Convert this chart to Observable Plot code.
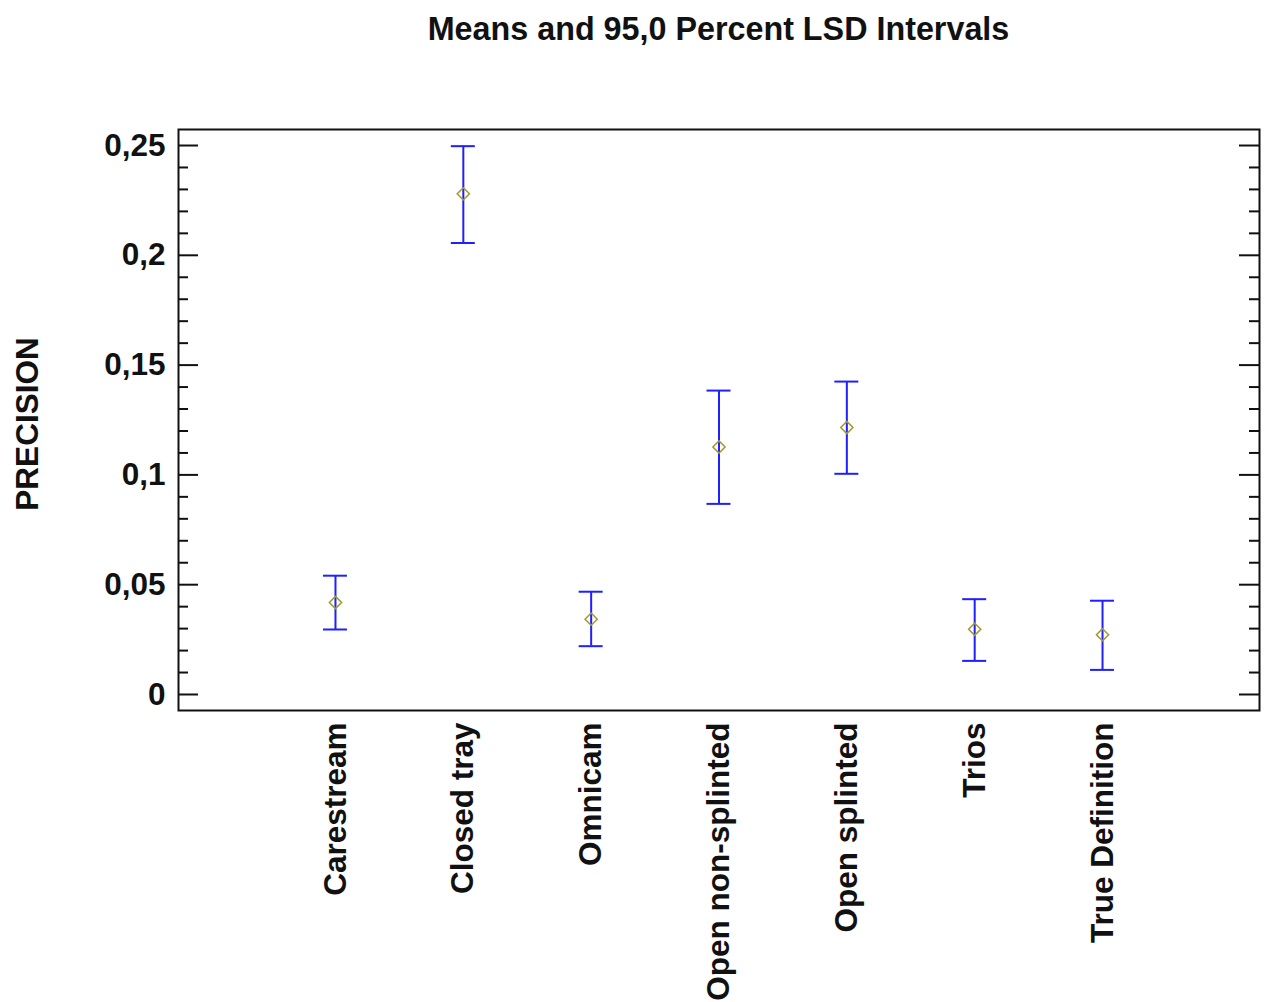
<!DOCTYPE html>
<html><head><meta charset="utf-8">
<script src="https://cdn.jsdelivr.net/npm/d3@7"></script>
<script src="https://cdn.jsdelivr.net/npm/@observablehq/plot@0.6"></script>
<style>
body{margin:0;background:#fff;font-family:"Liberation Sans",Arial,sans-serif;}
#title{height:60px;box-sizing:border-box;padding-left:170px;padding-top:14px;text-align:center;font-weight:bold;font-size:32.3px;line-height:30px;color:#111;}
#chart svg{display:block;}
</style></head><body>
<div id="title"></div>
<div id="chart"></div>
<script>
const titleText = "Means and 95,0 Percent LSD Intervals";
const yLabel = "PRECISION";
const categories = ["Carestream", "Closed tray", "Omnicam", "Open non-splinted", "Open splinted", "Trios", "True Definition"];
const means = [0.0419, 0.2280, 0.0343, 0.1127, 0.1216, 0.0297, 0.0272];
const lower = [0.0296, 0.2056, 0.0220, 0.0868, 0.1005, 0.0153, 0.0112];
const upper = [0.0541, 0.2497, 0.0468, 0.1384, 0.1425, 0.0434, 0.0427];
const yTicks = [0, 0.05, 0.1, 0.15, 0.2, 0.25];
const yTickLabels = ["0", "0,05", "0,1", "0,15", "0,2", "0,25"];
const yMinorTicks = [0.01, 0.02, 0.03, 0.04, 0.06, 0.07, 0.08, 0.09, 0.11, 0.12, 0.13, 0.14, 0.16, 0.17, 0.18, 0.19, 0.21, 0.22, 0.23, 0.24];

document.getElementById("title").textContent = titleText;

const W = 1267, H = 942, mL = 178, mR = 8, mT = 69, mB = 292;
const innerW = W - mL - mR;
const data = categories.map((c, i) => ({c, m: means[i], lo: lower[i], hi: upper[i]}));
const font = "'Liberation Sans', Arial, sans-serif";
const ink = "#111";
const blue = "#1f1fff";
const fs = 31.5;

const chart = Plot.plot({
  width: W, height: H,
  marginLeft: mL, marginRight: mR, marginTop: mT, marginBottom: mB,
  style: {fontFamily: font, background: "#fff", color: ink},
  x: {type: "band", domain: categories, paddingInner: 0.8123, paddingOuter: 1.134, round: false, axis: null},
  y: {domain: [-0.00729, 0.25729], axis: null},
  marks: [
    Plot.ruleY(yTicks, {stroke: ink, strokeWidth: 2, insetRight: innerW - 20}),
    Plot.ruleY(yTicks, {stroke: ink, strokeWidth: 2, insetLeft: innerW - 20}),
    Plot.ruleY(yMinorTicks, {stroke: ink, strokeWidth: 2, insetRight: innerW - 10}),
    Plot.ruleY(yMinorTicks, {stroke: ink, strokeWidth: 2, insetLeft: innerW - 10}),
    Plot.frame({stroke: ink, strokeWidth: 2}),
    Plot.axisY(yTicks, {anchor: "left", tickSize: 0, tickPadding: 13, tickFormat: d => yTickLabels[yTicks.indexOf(d)], fontSize: fs, fontWeight: "bold", label: null, fill: ink}),
    Plot.axisX({anchor: "bottom", tickSize: 0, tickRotate: -90, tickPadding: 12, fontSize: fs, fontWeight: "bold", label: null, fill: ink}),
    Plot.text([yLabel], {text: d => d, frameAnchor: "left", textAnchor: "middle", rotate: -90, dx: -151, dy: 4, fontSize: fs, fontWeight: "bold", fill: ink}),
    Plot.ruleX(data, {x: "c", y1: "lo", y2: "hi", stroke: blue, strokeWidth: 2}),
    Plot.tickY(data, {x: "c", y: "hi", stroke: blue, strokeWidth: 2}),
    Plot.tickY(data, {x: "c", y: "lo", stroke: blue, strokeWidth: 2}),
    Plot.dot(data, {x: "c", y: "m", symbol: "diamond2", r: 5.5, stroke: "#a09a30", strokeWidth: 1.5, fill: "none"})
  ]
});
document.getElementById("chart").appendChild(chart);
</script>
</body></html>
